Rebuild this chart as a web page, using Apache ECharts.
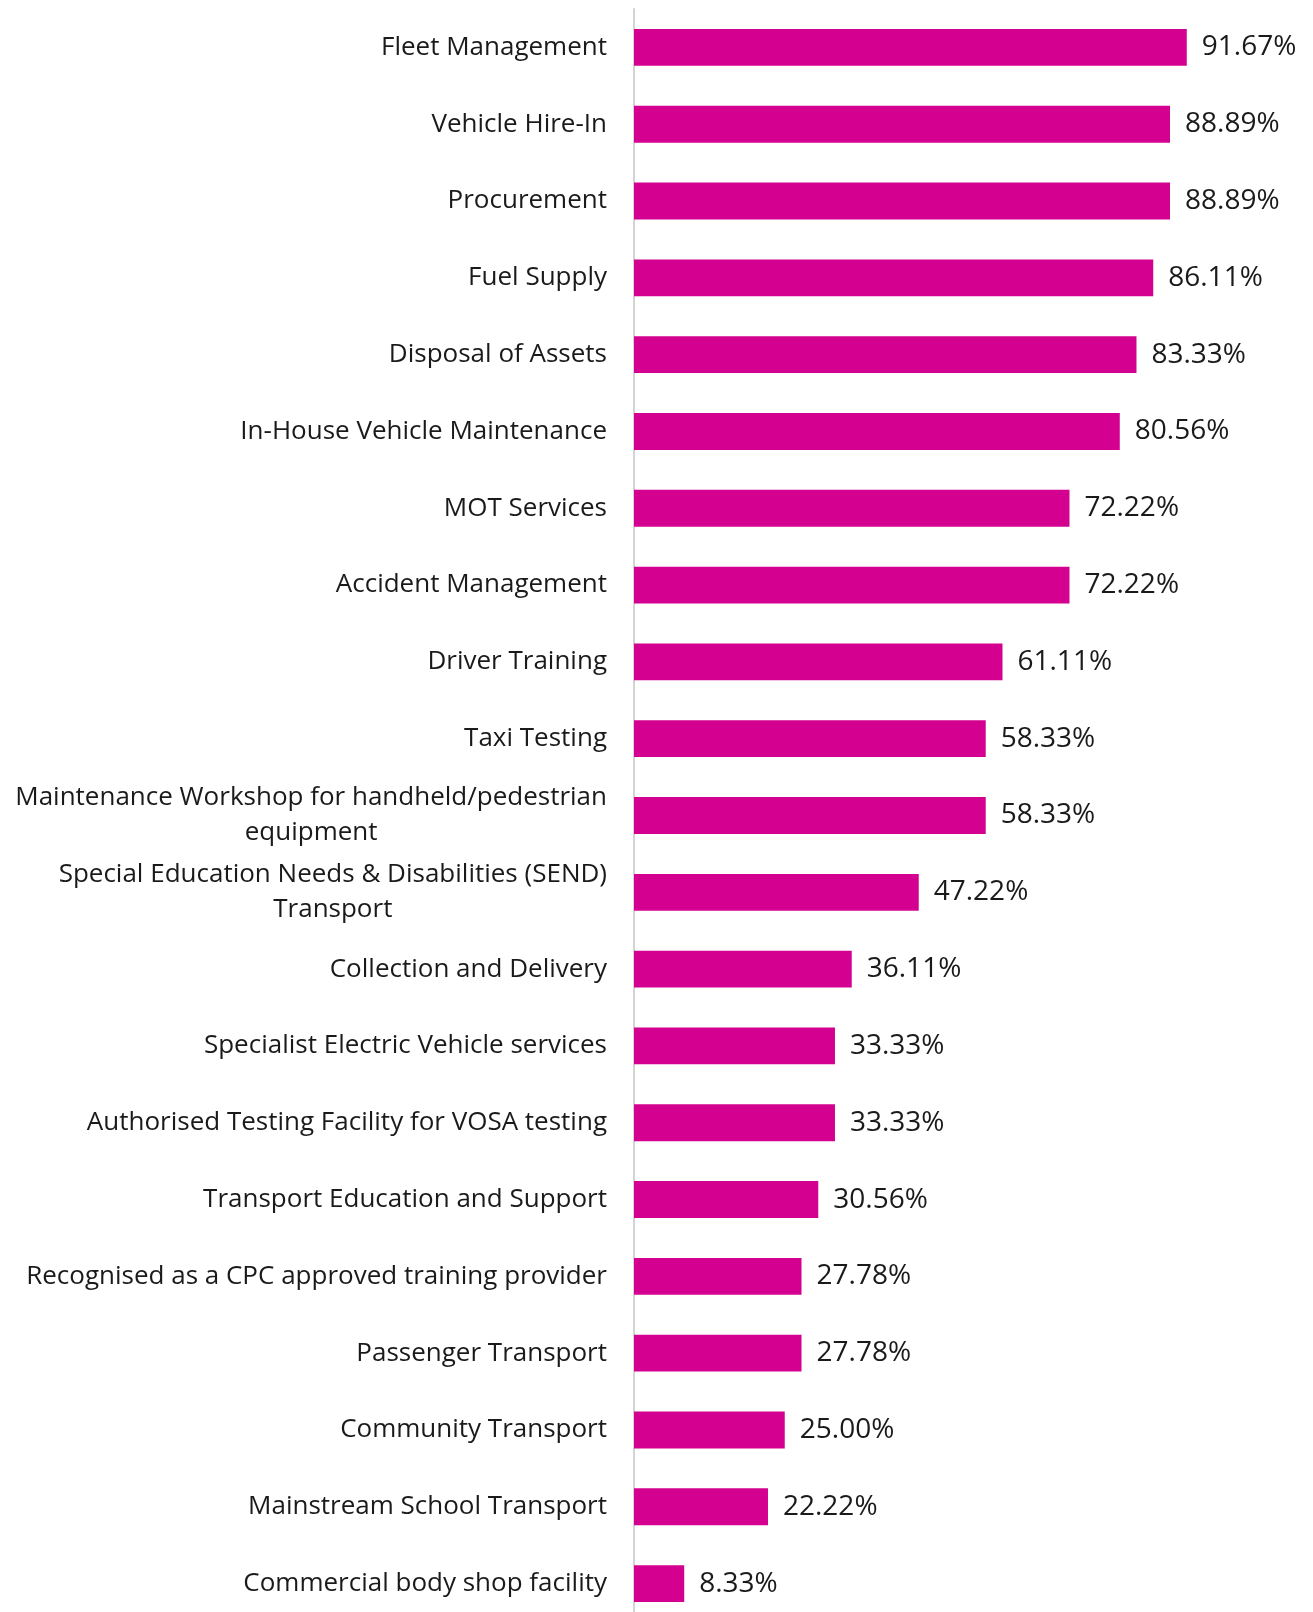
<!DOCTYPE html>
<html>
<head>
<meta charset="utf-8">
<title>Services offered</title>
<script src="https://cdn.jsdelivr.net/npm/echarts@6/dist/echarts.min.js"></script>
<style>
html,body{margin:0;padding:0;background:#fff;overflow:hidden;}
#chart{width:1313px;height:1630px;}
</style>
</head>
<body>
<div id="chart"></div>
<script>
var categories = [
	'Fleet Management',
	'Vehicle Hire-In',
	'Procurement',
	'Fuel Supply',
	'Disposal of Assets',
	'In-House Vehicle Maintenance',
	'MOT Services',
	'Accident Management',
	'Driver Training',
	'Taxi Testing',
	'Maintenance Workshop for handheld/pedestrian\nequipment',
	'Special Education Needs & Disabilities (SEND)\nTransport',
	'Collection and Delivery',
	'Specialist Electric Vehicle services',
	'Authorised Testing Facility for VOSA testing',
	'Transport Education and Support',
	'Recognised as a CPC approved training provider',
	'Passenger Transport',
	'Community Transport',
	'Mainstream School Transport',
	'Commercial body shop facility'
];
var values = [91.67, 88.89, 88.89, 86.11, 83.33, 80.56, 72.22, 72.22, 61.11, 58.33, 58.33,
	47.22, 36.11, 33.33, 33.33, 30.56, 27.78, 27.78, 25.00, 22.22, 8.33];

// the div is a bit taller than the window so the last band can run past the bottom edge
var chart = echarts.init(document.getElementById('chart'));
chart.setOption({
	animation: false,
	grid: {
		left: 634,
		width: 603,
		top: 9,
		height: 1613
	},
	xAxis: {
		type: 'value',
		min: 0,
		max: 100,
		show: false
	},
	yAxis: {
		type: 'category',
		inverse: true,
		data: categories,
		axisLine: {lineStyle: {color: '#d4d4d4', width: 2}},
		axisTick: {show: false},
		axisLabel: {
			margin: 27,
			fontFamily: 'Open Sans',
			fontSize: 26,
			color: '#1a1a1a',
			lineHeight: 35,
			formatter: function (v) {
				if (v.indexOf('\n') < 0) return v;
				return v.split('\n').map(function (s) { return '{c|' + s + '}'; }).join('\n');
			},
			rich: {
				c: {align: 'center', fontFamily: 'Open Sans', fontSize: 26, color: '#1a1a1a', lineHeight: 35}
			}
		}
	},
	series: [{
		type: 'bar',
		data: values,
		barCategoryGap: '52%',
		itemStyle: {color: '#d4008f'},
		label: {
			show: true,
			position: 'right',
			distance: 15,
			fontFamily: 'Open Sans',
			fontSize: 28,
			color: '#1a1a1a',
			formatter: function (p) { return p.value.toFixed(2) + '%'; }
		}
	}]
});
</script>
</body>
</html>
